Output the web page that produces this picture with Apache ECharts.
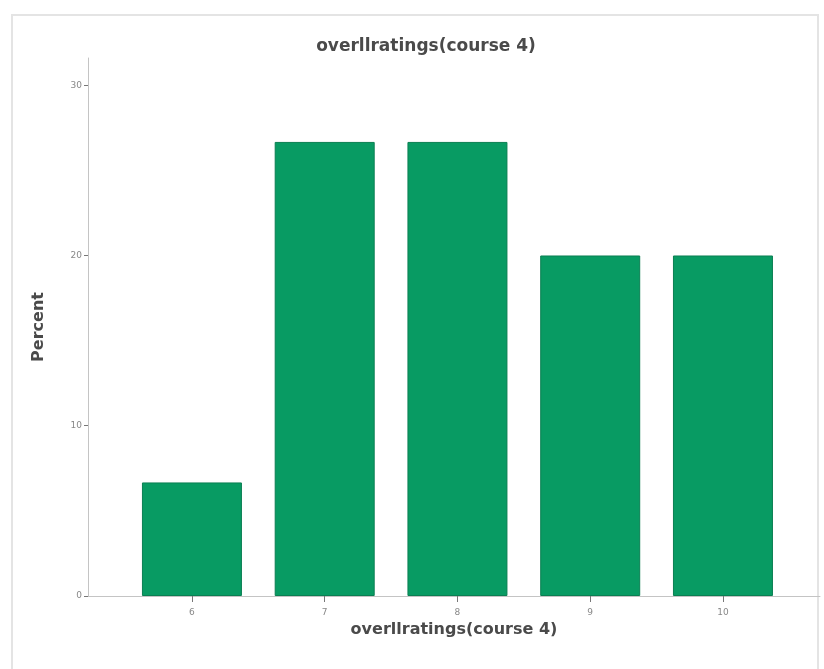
<!DOCTYPE html>
<html>
<head>
<meta charset="utf-8">
<script src="https://cdn.jsdelivr.net/npm/echarts@6/dist/echarts.min.js"></script>
<style>
html,body{margin:0;padding:0;background:#fff;}
#main{width:824px;height:669px;}
</style>
</head>
<body>
<div id="main"></div>
<script>
const categories = [6, 7, 8, 9, 10];
const percents = [6.67, 26.67, 26.67, 20.0, 20.0];
const yTicks = [0, 10, 20, 30];
const titleText = 'overllratings(course 4)';
const xTitle = 'overllratings(course 4)';
const yTitle = 'Percent';

const chart = echarts.init(document.getElementById('main'), null, {renderer: 'canvas'});
const font = '"DejaVu Sans", Verdana, sans-serif';
chart.setOption({
  animation: false,
  backgroundColor: '#fff',
  title: {
    text: titleText,
    left: 421, top: 33, textAlign: 'center',
    textStyle: {fontFamily: font, fontSize: 17, fontWeight: 'bold', color: '#4a4a4a'}
  },
  graphic: [{
    type: 'rect', z: -1,
    shape: {x: 12, y: 15, width: 806, height: 670},
    style: {fill: 'none', stroke: '#e4e4e4', lineWidth: 2}
  }],
  grid: {left: 88, right: 4, top: 58, bottom: 73, containLabel: false},
  xAxis: {
    type: 'value', min: 5.217, max: 10.731,
    splitLine: {show: false},
    axisLine: {show: true, lineStyle: {color: '#c4c4c4', width: 1}},
    axisTick: {show: true, customValues: categories, length: 6, lineStyle: {color: '#777'}},
    axisLabel: {customValues: categories, fontFamily: font, fontSize: 9, color: '#888', margin: 12},
    name: xTitle, nameLocation: 'middle', nameGap: 22,
    nameTextStyle: {fontFamily: font, fontSize: 16, fontWeight: 'bold', color: '#4a4a4a'}
  },
  yAxis: {
    type: 'value', min: 0, max: 31.6,
    splitLine: {show: false},
    axisLine: {show: true, lineStyle: {color: '#c4c4c4', width: 1}},
    axisTick: {show: true, customValues: yTicks, length: 4, lineStyle: {color: '#777'}},
    axisLabel: {customValues: yTicks, fontFamily: font, fontSize: 9, color: '#888', margin: 6},
    name: yTitle, nameLocation: 'middle', nameGap: 41,
    nameTextStyle: {fontFamily: font, fontSize: 16, fontWeight: 'bold', color: '#4a4a4a'}
  },
  series: [{
    type: 'bar',
    data: categories.map((c, i) => [c, percents[i]]),
    barWidth: 100,
    itemStyle: {color: '#089b63', borderColor: '#0a7f52', borderWidth: 1}
  }]
});
</script>
</body>
</html>
